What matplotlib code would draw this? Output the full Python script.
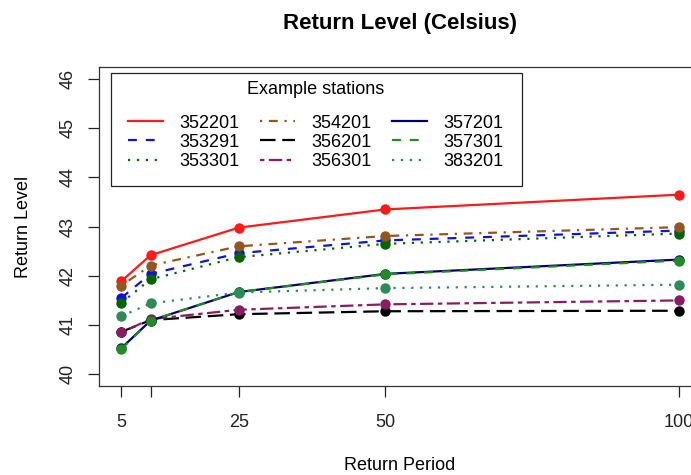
import matplotlib
matplotlib.use("Agg")
import matplotlib.pyplot as plt
from matplotlib.lines import Line2D
from matplotlib.patches import Rectangle

plt.rcParams['font.family'] = ['Liberation Sans', 'DejaVu Sans']

periods = [5, 10, 25, 50, 100]
tick_labels = ["5", "", "25", "50", "100"]
stations = ["352201", "353291", "353301", "354201", "356201",
            "356301", "357201", "357301", "383201"]
v352201 = [41.89, 42.42, 42.98, 43.35, 43.65]
v353291 = [41.55, 42.04, 42.46, 42.72, 42.92]
v353301 = [41.45, 41.93, 42.38, 42.65, 42.86]
v354201 = [41.80, 42.21, 42.60, 42.81, 42.99]
v356201 = [40.86, 41.10, 41.22, 41.28, 41.29]
v356301 = [40.85, 41.12, 41.31, 41.42, 41.50]
v357201 = [40.53, 41.09, 41.67, 42.04, 42.33]
v357301 = [40.51, 41.09, 41.67, 42.03, 42.31]
v383201 = [41.18, 41.44, 41.66, 41.75, 41.82]
values = [v352201, v353291, v353301, v354201, v356201,
          v356301, v357201, v357301, v383201]

colors = ["#FF1A1A", "#1010E0", "#006400", "#94561E", "#000000",
          "#8B1C62", "#000070", "#228B22", "#2E8B57"]
styles = ["-", (0, (4, 4)), (0, (1, 3)), (0, (1, 3, 4, 3)), (0, (7, 3)),
          (0, (2, 2, 6, 2)), "-", (0, (4, 4)), (0, (1, 3))]

W, H = 691, 475
fig = plt.figure(figsize=(W / 100, H / 100), dpi=100)
ax = fig.add_axes([99 / W, 1 - 386 / H, 602 / W, 318.7 / H])

handles = []
for name, vals, c, ls in zip(stations, values, colors, styles):
    ax.plot(periods, vals, color=c, linestyle=ls, linewidth=1.6,
            marker="o", markersize=7.5, markeredgewidth=0, solid_capstyle="butt",
            dash_capstyle="butt")
    handles.append(Line2D([], [], color=c, linestyle=ls, linewidth=1.6, label=name))

ax.set_xlim(1.2, 103.8)
ax.set_ylim(39.76, 46.24)
ax.set_xticks(periods)
ax.set_xticklabels(tick_labels)
ax.set_yticks([40, 41, 42, 43, 44, 45, 46])
ax.set_yticklabels(["40", "41", "42", "43", "44", "45", "46"], rotation=90, va="center")
ax.tick_params(direction="out", length=8, width=0.9, labelsize=13, colors="#222222", pad=8)
ax.tick_params(axis="x", pad=12)
for s in ax.spines.values():
    s.set_linewidth(0.9)
    s.set_color("#333333")

ax.set_xlabel("Return Period", fontsize=13, labelpad=19)
ax.set_ylabel("Return Level", fontsize=13, labelpad=20)
fig.text(400 / W, 1 - 23 / H, "Return Level (Celsius)", ha="center", va="center",
         fontsize=16, fontweight="bold")

# legend frame and title
ax.add_patch(Rectangle((110.7 / W, 1 - 186 / H), (522 - 110.7) / W, (186 - 73.3) / H,
                       transform=fig.transFigure, facecolor="white",
                       edgecolor="#222222", linewidth=0.9, zorder=5, clip_on=False))
ax.text(316 / W, 1 - 90 / H, "Example stations", ha="center", va="center",
        fontsize=13, zorder=6, transform=fig.transFigure)
leg = ax.legend(handles=handles, ncol=3, loc="upper left",
                bbox_to_anchor=(128 / W, 1 - 114.5 / H), bbox_transform=fig.transFigure,
                fontsize=13, frameon=False,
                handlelength=1.94, handletextpad=0.9, columnspacing=1.15,
                labelspacing=0.12, borderpad=0, borderaxespad=0)
leg.set_zorder(7)

fig.savefig("out.png", dpi=100)
